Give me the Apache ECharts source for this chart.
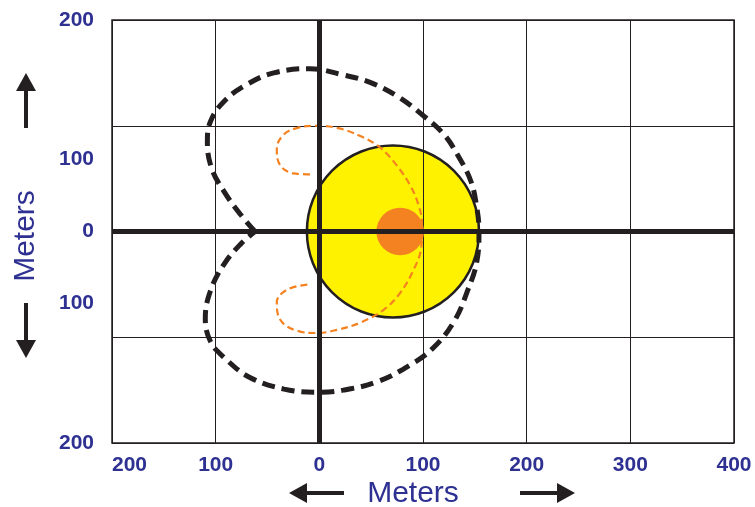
<!DOCTYPE html>
<html>
<head>
<meta charset="utf-8">
<script src="https://cdn.jsdelivr.net/npm/echarts@6/dist/echarts.min.js"></script>
<style>
  html, body { margin: 0; padding: 0; background: #fff; }
  #chart { width: 755px; height: 507px; }
</style>
</head>
<body>
<div id="chart"></div>
<script>
const blue = '#2E3192'
const ink = '#231F20'

// axis ticks
const xTickValues = [-200, -100, 0, 100, 200, 300, 400]
const yTickValues = [-200, -68, 0, 68, 200]
const yTickLabels = ['200', '100', '0', '100', '200']

// outer dashed loop (meters)
const outerLoop = [
  [-62, 0], [-76, 16], [-92, 38], [-104, 60], [-108, 85], [-105, 104],
  [-92, 123], [-70, 139], [-44, 150], [-9, 154], [23, 148], [49, 141],
  [75, 128], [101, 109], [120, 92], [133, 73], [146, 48], [152, 22],
  [154, 0], [152, -28], [143, -56], [130, -85], [110, -110], [88, -126],
  [56, -142], [23, -150], [-2, -152], [-34, -149], [-67, -138], [-92, -119],
  [-105, -104], [-110, -82], [-105, -56], [-92, -31], [-76, -12], [-62, 0]
]

// inner dashed curve (meters)
const innerCurve = [
  [-9, 54], [-25, 55], [-38, 63], [-41, 78], [-34, 92], [-21, 98],
  [-5, 100], [17, 98], [40, 90], [59, 79], [75, 62], [88, 43],
  [96, 24], [99, 8], [99, 0], [98, -17], [91, -36], [78, -58],
  [62, -74], [40, -86], [17, -93], [-2, -96], [-21, -94], [-38, -83],
  [-41, -67], [-31, -55], [-9, -50]
]

// circles: [x, y, radius] in meters
const bigCircle = [[71, 0, 83]]
const smallDot = [[78, 0, 23]]

const labelStyle = {
  color: blue,
  fontFamily: 'Liberation Sans',
  fontWeight: 'bold',
  fontSize: 21
}

function circleRenderer(fill, stroke, width) {
  return function (params, api) {
    const c = api.coord([api.value(0), api.value(1)])
    const r = api.size([api.value(2), 0])[0]
    return {
      type: 'circle',
      shape: { cx: c[0], cy: c[1], r: r },
      style: { fill: fill, stroke: stroke, lineWidth: width }
    }
  }
}

function arrow(x, y, dir) {
  // dir: 'left' | 'right' | 'up' | 'down'; shaft 56px, head 18px
  const len = 56, head = 18, half = 10, w = 4
  let shaft, tip
  if (dir === 'left') {
    shaft = { x: x + head - 1, y: y - w / 2, width: len - head, height: w }
    tip = [[x, y], [x + head, y - half], [x + head, y + half]]
  } else if (dir === 'right') {
    shaft = { x: x - len + 1, y: y - w / 2, width: len - head, height: w }
    tip = [[x, y], [x - head, y - half], [x - head, y + half]]
  } else if (dir === 'up') {
    shaft = { x: x - w / 2, y: y + head - 1, width: w, height: len - head }
    tip = [[x, y], [x - half, y + head], [x + half, y + head]]
  } else {
    shaft = { x: x - w / 2, y: y - len + 1, width: w, height: len - head }
    tip = [[x, y], [x - half, y - head], [x + half, y - head]]
  }
  return [
    { type: 'rect', shape: shaft, style: { fill: ink }, z: 10 },
    { type: 'polygon', shape: { points: tip }, style: { fill: ink }, z: 10 }
  ]
}

const chart = echarts.init(document.getElementById('chart'))

const option = {
  animation: false,
  backgroundColor: '#fff',
  grid: {
    left: 112, right: 21, top: 20, bottom: 64,
    show: true, borderColor: ink, borderWidth: 1.5, backgroundColor: 'transparent'
  },
  xAxis: {
    type: 'value',
    min: -200, max: 400, interval: 100,
    z: 2,
    axisLine: { show: false },
    axisTick: { show: false },
    splitLine: { show: true, lineStyle: { color: ink, width: 1 } },
    axisLabel: Object.assign({
      margin: 12,
      alignMinLabel: 'left',
      customValues: xTickValues,
      formatter: v => String(Math.abs(v))
    }, labelStyle)
  },
  yAxis: {
    type: 'value',
    min: -200, max: 200, interval: 100,
    z: 2,
    axisLine: { show: false },
    axisTick: { show: false },
    splitLine: { show: true, lineStyle: { color: ink, width: 1 } },
    axisLabel: Object.assign({
      margin: 18,
      padding: [5, 0, 0, 0],
      customValues: yTickValues,
      formatter: v => yTickLabels[yTickValues.indexOf(v)]
    }, labelStyle)
  },
  graphic: [
    {
      type: 'text', x: 413, y: 494, z: 10,
      style: {
        text: 'Meters', fill: blue, align: 'center', verticalAlign: 'middle',
        font: '30px "Liberation Sans"'
      }
    },
    {
      type: 'text', x: 26, y: 236, rotation: Math.PI / 2, z: 10,
      style: {
        text: 'Meters', fill: blue, align: 'center', verticalAlign: 'middle',
        font: '30px "Liberation Sans"'
      }
    },
    ...arrow(289, 493, 'left'),
    ...arrow(575, 493, 'right'),
    ...arrow(26, 73, 'up'),
    ...arrow(26, 358, 'down')
  ],
  series: [
    {
      type: 'custom',
      z: 1,
      renderItem: circleRenderer('#FFF200', ink, 2.5),
      data: bigCircle
    },
    {
      type: 'line',
      z: 3,
      data: innerCurve,
      smooth: 0.4,
      symbol: 'none',
      lineStyle: { color: '#F58220', width: 2.2, type: [7, 4] }
    },
    {
      type: 'custom',
      z: 4,
      renderItem: circleRenderer('#F58220', 'none', 0),
      data: smallDot
    },
    {
      type: 'line',
      z: 5,
      data: [],
      markLine: {
        silent: true,
        symbol: ['none', 'none'],
        label: { show: false },
        lineStyle: { color: ink, width: 5, type: 'solid' },
        data: [{ xAxis: 0 }, { yAxis: 0 }]
      }
    },
    {
      type: 'line',
      z: 6,
      data: outerLoop,
      smooth: 0.4,
      symbol: 'none',
      lineStyle: { color: ink, width: 5, type: [13, 7] }
    }
  ]
}

chart.setOption(option)
</script>
</body>
</html>
